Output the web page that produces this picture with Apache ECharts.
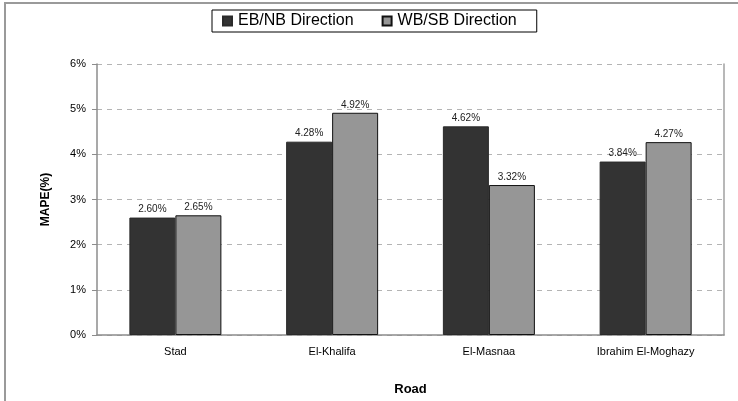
<!DOCTYPE html>
<html>
<head>
<meta charset="utf-8">
<style>
  html, body { margin: 0; padding: 0; background: #fff; }
  #chart { width: 738px; height: 401px; }
</style>
<script src="https://cdn.jsdelivr.net/npm/echarts@6/dist/echarts.min.js"></script>
</head>
<body>
<div id="chart"></div>
<script>
// Road segments on the x axis
const roads = ['Stad', 'El-Khalifa', 'El-Masnaa', 'Ibrahim El-Moghazy'];
// MAPE values (%) per travel direction
const ebnbValues = [2.60, 4.28, 4.62, 3.84];
const wbsbValues = [2.65, 4.92, 3.32, 4.27];
const seriesNames = ['EB/NB Direction', 'WB/SB Direction'];
// Y axis range and step (%)
const yMin = 0, yMax = 6, yStep = 1;

const font = 'Liberation Sans, Arial, sans-serif';
const chart = echarts.init(document.getElementById('chart'), null, { renderer: 'canvas' });

const labelCfg = {
  show: true,
  position: 'top',
  distance: 3,
  fontFamily: font,
  fontSize: 10,
  color: '#222',
  formatter: p => p.value.toFixed(2) + '%'
};

chart.setOption({
  backgroundColor: '#fff',
  animation: false,
  textStyle: { fontFamily: font },
  graphic: [{
    type: 'rect',
    shape: { x: 5, y: 3, width: 760, height: 420 },
    style: { fill: 'none', stroke: '#9a9a9a', lineWidth: 2 },
    silent: true,
    z: -1
  }],
  legend: {
    left: 212,
    top: 10,
    data: seriesNames,
    icon: 'rect',
    itemWidth: 9,
    itemHeight: 9,
    itemGap: 28,
    padding: [3, 20, 3, 10],
    borderColor: '#000',
    borderWidth: 1,
    textStyle: { fontFamily: font, fontSize: 16, color: '#000', padding: [0, 0, 0, 1] }
  },
  grid: { left: 97, right: 14, top: 64, bottom: 61, containLabel: false },
  xAxis: {
    type: 'category',
    data: roads,
    name: 'Road',
    nameLocation: 'middle',
    nameGap: 48,
    nameTextStyle: { fontFamily: font, fontSize: 13, fontWeight: 'bold', color: '#000' },
    axisLine: { lineStyle: { color: '#8c8c8c', width: 1.5 } },
    axisTick: { show: false },
    axisLabel: { fontFamily: font, fontSize: 11, color: '#000', margin: 11 }
  },
  yAxis: [{
    type: 'value',
    min: yMin,
    max: yMax,
    interval: yStep,
    name: 'MAPE(%)',
    nameLocation: 'middle',
    nameGap: 45,
    nameTextStyle: { fontFamily: font, fontSize: 12, fontWeight: 'bold', color: '#000' },
    axisLine: { show: true, lineStyle: { color: '#8c8c8c', width: 1.5 } },
    axisTick: { show: true, length: 5, lineStyle: { color: '#8c8c8c' } },
    axisLabel: { fontFamily: font, fontSize: 11, color: '#000', margin: 11, formatter: v => v + '%' },
    splitLine: { show: true, lineStyle: { color: '#b4b4b4', type: [5, 5], width: 1 } }
  }, {
    type: 'value',
    position: 'right',
    min: yMin,
    max: yMax,
    interval: yStep,
    axisLine: { show: true, lineStyle: { color: '#a0a0a0', width: 1.5 } },
    axisTick: { show: false },
    axisLabel: { show: false },
    splitLine: { show: false }
  }],
  series: [{
    name: seriesNames[0],
    type: 'bar',
    data: ebnbValues,
    barWidth: 46,
    barGap: '0%',
    itemStyle: { color: '#333333', borderColor: '#2a2a2a', borderWidth: 1 },
    label: labelCfg
  }, {
    name: seriesNames[1],
    type: 'bar',
    data: wbsbValues,
    barWidth: 46,
    barGap: '0%',
    itemStyle: { color: '#969696', borderColor: '#111', borderWidth: 1 },
    label: labelCfg
  }]
});
</script>
</body>
</html>
